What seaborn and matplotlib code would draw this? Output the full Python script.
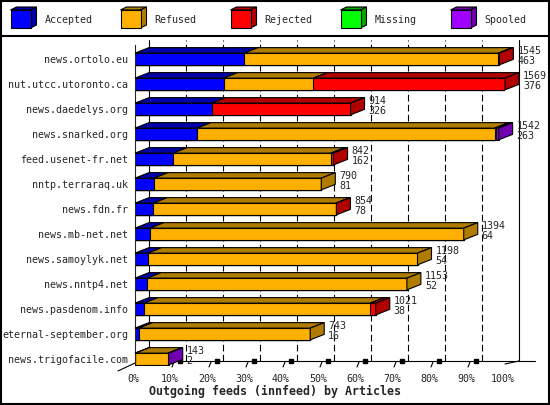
import numpy as np
import pandas as pd
import matplotlib
matplotlib.use("Agg")
import matplotlib.pyplot as plt
import matplotlib.transforms as mtrans
import seaborn as sns
from matplotlib.patches import Polygon, Rectangle

# data (articles per outgoing feed)
servers = ["news.ortolo.eu", "nut.utcc.utoronto.ca", "news.daedelys.org",
           "news.snarked.org", "feed.usenet-fr.net", "nntp.terraraq.uk",
           "news.fdn.fr", "news.mb-net.net", "news.samoylyk.net",
           "news.nntp4.net", "news.pasdenom.info", "eternal-september.org",
           "news.trigofacile.com"]
accepted = [463, 376, 326, 263, 162, 81, 78, 64, 54, 52, 38, 16, 2]
refused = [1078, 380, 0, 1262, 668, 709, 774, 1330, 1144, 1101, 959, 727, 138]
rejected = [4, 813, 588, 5, 12, 0, 2, 0, 0, 0, 24, 0, 0]
missing = [0, 0, 0, 0, 0, 0, 0, 0, 0, 0, 0, 0, 0]
spooled = [0, 0, 0, 12, 0, 0, 0, 0, 0, 0, 0, 0, 3]

series = ["Accepted", "Refused", "Rejected", "Missing", "Spooled"]
front_colors = ["#0000ff", "#ffb000", "#ff0000", "#00ff00", "#a000ff"]
dark_colors = ["#0000a8", "#b07c00", "#b00000", "#00a800", "#7000b0"]
pct_labels = ["0%", "10%", "20%", "30%", "40%", "50%",
              "60%", "70%", "80%", "90%", "100%"]

df = pd.DataFrame({"server": servers, "Accepted": accepted, "Refused": refused,
                   "Rejected": rejected, "Missing": missing, "Spooled": spooled})
stack = df[series].to_numpy()
cum = stack.cumsum(axis=1)
left = cum - stack
total = cum[:, -1]
xmax = total.max()
n = len(servers)

sns.set_style("white")
plt.rcParams["font.family"] = "DejaVu Sans Mono"
FS = 7.2
LW = 0.8

W, H = 550, 405
fig = plt.figure(figsize=(W / 100, H / 100), dpi=100)

# frame + legend band, drawn in pixel coords behind everything
cv = fig.add_axes([0, 0, 1, 1], zorder=-1)
cv.set_xlim(0, W)
cv.set_ylim(H, 0)
cv.axis("off")
cv.add_patch(Rectangle((1, 1), W - 2, H - 2, fill=False, ec="black", lw=1.5))
cv.plot([0, W], [35.5, 35.5], color="black", lw=1.5)
for i, name in enumerate(series):
    x0 = 10.5 + 110 * i
    cv.add_patch(Polygon([(x0, 10), (x0 + 20, 10), (x0 + 26, 7), (x0 + 6, 7)],
                         fc=dark_colors[i], ec="black", lw=LW))
    cv.add_patch(Polygon([(x0 + 20, 10), (x0 + 26, 7), (x0 + 26, 25), (x0 + 20, 28)],
                         fc=dark_colors[i], ec="black", lw=LW))
    cv.add_patch(Rectangle((x0, 10), 20, 18, fc=front_colors[i], ec="black", lw=LW))
    cv.text(x0 + 34, 20, name, fontsize=FS, va="center", ha="left")
cv.text(275, 391, "Outgoing feeds (innfeed) by Articles", ha="center", va="center",
        fontsize=8.4, fontweight="bold")

# front plane of the 3d box: x 135..505 px, y 45..366 px
ax = fig.add_axes([135 / W, 1 - 366 / H, 370 / W, 321 / H])
ax.patch.set_alpha(0)
px = xmax / 370          # data units per pixel along x
py = 1 / 25              # category units per pixel along y
dx, dy = 14 * px, 5.5 * py
bar_h = 0.47
floor = 12 + 2 * py
top = -14 * py - 5 * py

# back wall grid + floor
for k in range(1, 10):
    gx = xmax * k / 10 + dx
    ax.plot([gx, gx], [floor, top], color="black", lw=LW, ls=(0, (6, 3)),
            zorder=0.5, clip_on=False)
    fx = xmax * k / 10
    ax.plot([fx, fx + 2 * px], [12 + 8 * py, 12 + 3 * py], color="black", lw=LW,
            zorder=0.6, clip_on=False)
    ax.plot([fx + 8 * px], [floor], marker="s", ms=2.5, color="black",
            zorder=0.6, clip_on=False)
for gx in [dx, xmax + dx]:
    ax.plot([gx, gx], [floor, top], color="black", lw=LW, zorder=0.5, clip_on=False)
ax.plot([0, xmax + dx + 16 * px], [floor, floor], color="black", lw=LW,
        zorder=0.5, clip_on=False)
ax.plot([-17 * px, 0], [12 + 12 * py, 12 + 4 * py], color="black", lw=LW, clip_on=False)
ax.plot([xmax, xmax + dx], [12 + 5 * py, floor], color="black", lw=LW, clip_on=False)

# stacked front faces: cumulative bars, widest first
for k in reversed(range(len(series))):
    sns.barplot(x=cum[:, k], y=servers, orient="h", color=front_colors[k],
                saturation=1, width=bar_h, edgecolor="black", linewidth=LW,
                errorbar=None, ax=ax, zorder=2)

# top and end faces
for i in range(n):
    yt, yb = i - bar_h / 2, i + bar_h / 2
    last = 0
    for k in range(len(series)):
        if stack[i, k] == 0:
            continue
        last = k
        x0, x1 = left[i, k], cum[i, k]
        ax.add_patch(Polygon([(x0, yt), (x1, yt), (x1 + dx, yt - dy), (x0 + dx, yt - dy)],
                             fc=dark_colors[k], ec="black", lw=LW, zorder=3, clip_on=False))
    xe = total[i]
    ax.add_patch(Polygon([(xe, yt), (xe + dx, yt - dy), (xe + dx, yb - dy), (xe, yb)],
                         fc=dark_colors[last], ec="black", lw=LW, zorder=3, clip_on=False))
    ax.text(xe + dx + 4 * px, i - 8.5 * py, str(total[i]), fontsize=FS,
            va="center", ha="left", clip_on=False)
    ax.text(xe + dx + 4 * px, i + 1.5 * py, str(accepted[i]), fontsize=FS,
            va="center", ha="left", clip_on=False)

ax.set_xlim(0, xmax)
ax.set_ylim(12 + 7 * py, -14 * py)
ax.set_xticks(np.linspace(0, xmax, 11), pct_labels)
ax.set_yticks(range(n), servers)
ax.tick_params(axis="x", length=0, pad=6, labelsize=FS)
ax.tick_params(axis="y", length=0, pad=5, labelsize=FS)
shift = mtrans.ScaledTranslation(-2 / 100, 0, fig.dpi_scale_trans)
for lab in ax.get_xticklabels():
    lab.set_transform(lab.get_transform() + shift)
ax.set_xlabel("")
ax.set_ylabel("")
for s in ["top", "right", "bottom"]:
    ax.spines[s].set_visible(False)
ax.spines["left"].set_linewidth(LW)
ax.spines["left"].set_bounds(-14 * py, 12 + 4 * py)

fig.savefig("out.png", dpi=100)
